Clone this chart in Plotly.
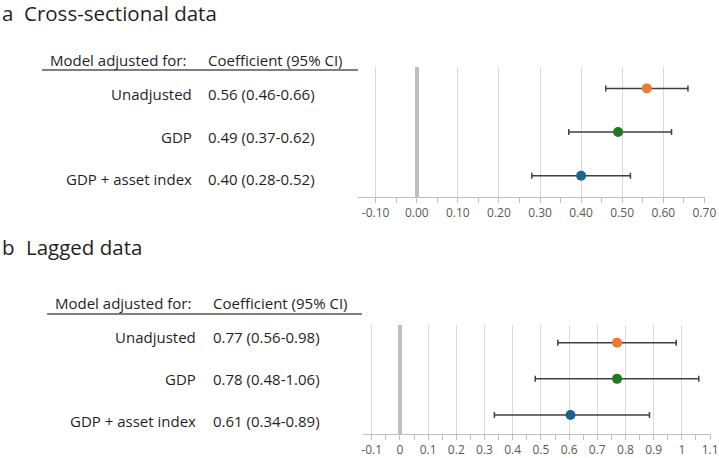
import plotly.graph_objects as go

W, H = 719, 458
FONT = "Open Sans"

# ---------------- data ----------------
models = ["Unadjusted", "GDP", "GDP + asset index"]
colors = ["#EE7A30", "#1E7A1E", "#1A6590"]

a_title = "Cross-sectional data"
a_est = [0.56, 0.49, 0.40]
a_lo = [0.46, 0.37, 0.28]
a_hi = [0.66, 0.62, 0.52]
a_labels = ["0.56 (0.46-0.66)", "0.49 (0.37-0.62)", "0.40 (0.28-0.52)"]
a_tickvals = [-0.1, 0.0, 0.1, 0.2, 0.3, 0.4, 0.5, 0.6, 0.7]
a_ticktext = ["-0.10", "0.00", "0.10", "0.20", "0.30", "0.40", "0.50", "0.60", "0.70"]

b_title = "Lagged data"
b_est = [0.77, 0.77, 0.605]
b_lo = [0.56, 0.48, 0.335]
b_hi = [0.98, 1.06, 0.885]
b_labels = ["0.77 (0.56-0.98)", "0.78 (0.48-1.06)", "0.61 (0.34-0.89)"]
b_tickvals = [-0.1, 0, 0.1, 0.2, 0.3, 0.4, 0.5, 0.6, 0.7, 0.8, 0.9, 1.0, 1.1]
b_ticktext = ["-0.1", "0", "0.1", "0.2", "0.3", "0.4", "0.5", "0.6", "0.7", "0.8", "0.9", "1", "1.1"]

rows_y = [3, 2, 1]

# ---------------- helpers ----------------
def px(x):
    return x / W

def py(y):
    return 1 - y / H

fig = go.Figure()

def add_panel(est, lo, hi, xa, ya):
    for i in range(len(est)):
        fig.add_trace(go.Scatter(
            x=[est[i]], y=[rows_y[i]], mode="markers",
            marker=dict(color=colors[i], size=10),
            error_x=dict(type="data", symmetric=False,
                         array=[hi[i] - est[i]], arrayminus=[est[i] - lo[i]],
                         color="#404040", thickness=1.5, width=3),
            xaxis=xa, yaxis=ya, showlegend=False, hoverinfo="skip"))

add_panel(a_est, a_lo, a_hi, "x", "y")
add_panel(b_est, b_lo, b_hi, "x2", "y2")

def xaxis_cfg(domain, rng, tv, tt, anchor):
    return dict(domain=domain, range=rng, anchor=anchor, automargin=False,
                tickvals=tv, ticktext=tt,
                showgrid=True, gridcolor="#D9D9D9", gridwidth=1,
                zeroline=True, zerolinecolor="#BFBFBF", zerolinewidth=4,
                showline=True, linecolor="#BFBFBF", linewidth=1,
                ticks="outside", ticklen=5, tickcolor="#BFBFBF",
                minor=dict(dtick=0.05, tick0=0, ticks="outside", ticklen=5,
                           tickcolor="#BFBFBF", showgrid=False),
                tickfont=dict(family=FONT, size=12, color="#595959"),
                fixedrange=True)

def yaxis_cfg(domain, rng, anchor):
    return dict(domain=domain, range=rng, anchor=anchor, visible=False,
                automargin=False, showgrid=False, zeroline=False, fixedrange=True)

fig.update_layout(
    width=W, height=H,
    margin=dict(l=0, r=0, t=0, b=0),
    paper_bgcolor="white", plot_bgcolor="white",
    xaxis=xaxis_cfg([px(358), px(705)], [-0.143, 0.7015], a_tickvals, a_ticktext, "y"),
    yaxis=yaxis_cfg([py(196.7), py(67)], [0.52, 3.49], "x"),
    xaxis2=xaxis_cfg([px(362.7), px(710.5)], [-0.132, 1.1015], b_tickvals, b_ticktext, "y2"),
    yaxis2=yaxis_cfg([py(434), py(325)], [0.476, 3.488], "x2"),
)

ann = []
def text(x, y, s, size, anchor="left", color="#1F1F1F"):
    ann.append(dict(x=px(x), y=py(y), xref="paper", yref="paper", text=s,
                    showarrow=False, xanchor=anchor, yanchor="middle",
                    font=dict(family=FONT, size=size, color=color)))

shapes = []
def hline(x0, x1, y):
    shapes.append(dict(type="line", xref="paper", yref="paper",
                       x0=px(x0), x1=px(x1), y0=py(y), y1=py(y),
                       line=dict(color="#7F7F7F", width=2)))

TS, BS = 20.5, 15

# Panel a
text(0, 13, "a", TS)
text(22, 13, a_title, TS)
text(48, 60, "Model adjusted for:", BS)
text(206, 60, "Coefficient (95% CI)", BS)
hline(42, 358, 70)
for i, yy in enumerate([94, 137, 179]):
    text(194, yy, models[i], BS, anchor="right")
    text(206, yy, a_labels[i], BS)

# Panel b
text(0, 247, "b", TS)
text(24, 247, b_title, TS)
text(53, 303, "Model adjusted for:", BS)
text(211, 303, "Coefficient (95% CI)", BS)
hline(47, 362, 314)
for i, yy in enumerate([337, 379, 421]):
    text(198, yy, models[i], BS, anchor="right")
    text(211, yy, b_labels[i], BS)

fig.update_layout(annotations=ann, shapes=shapes)
fig.write_html("out.html", config={"displayModeBar": False},
               post_script="document.body.style.margin='0';")
